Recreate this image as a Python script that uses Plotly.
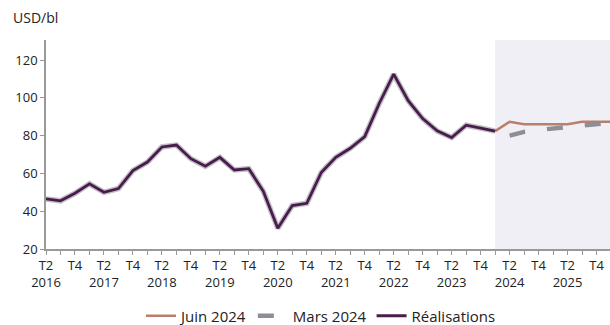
import plotly.graph_objects as go

# Quarter categories (T2 2016 .. T1 2026)
quarters = []
q, y = 2, 2016
for _ in range(40):
    quarters.append(f"T{q} {y}")
    q += 1
    if q > 4:
        q, y = 1, y + 1

realisations = [46.5, 45.5, 49.5, 54.5, 50.0, 52.0, 61.5, 66.0, 74.0, 75.0,
                67.8, 63.8, 68.5, 61.8, 62.5, 50.5, 31.0, 43.0, 44.2, 60.5,
                68.5, 73.3, 79.5, 97.0, 112.5, 98.5, 89.0, 82.5, 79.0, 85.5,
                84.0, 82.4]
real_x = quarters[:32]

juin_x = quarters[31:]
juin_2024 = [82.4, 87.3, 86.0, 86.0, 86.0, 86.0, 87.3, 87.3, 87.3]

mars_x = quarters[32:]
mars_2024 = [80.0, 82.0, 83.0, 83.8, 84.6, 85.4, 86.2, 86.8]

tick_labels = []
for c in quarters:
    t, yr = c.split()
    if t == "T2":
        tick_labels.append(f"T2<br>{yr}")
    elif t == "T4":
        tick_labels.append("T4")
    else:
        tick_labels.append("")

FONT = "Open Sans"
C_JUIN = "#b97f6c"
C_MARS = "#8e8e96"
C_REAL = "#4a1c4e"

W, H = 610, 325
L, T, B = 46, 40, 76
PW = W - L
PH = H - T - B

fig = go.Figure()

fig.add_vrect(x0=quarters[31], x1=quarters[39], fillcolor="#f0eff5", line_width=0, layer="below")

fig.add_trace(go.Scatter(x=juin_x, y=juin_2024, mode="lines", name="Juin 2024",
                         line=dict(color=C_JUIN, width=2.5)))
fig.add_trace(go.Scatter(x=mars_x, y=mars_2024, mode="lines", name="Mars 2024",
                         line=dict(color=C_MARS, width=4.5, dash="16px,22px")))
fig.add_trace(go.Scatter(x=real_x, y=realisations, mode="lines", showlegend=False,
                         hoverinfo="skip",
                         line=dict(color="rgba(140,140,150,0.55)", width=5.5)))
fig.add_trace(go.Scatter(x=real_x, y=realisations, mode="lines", name="Réalisations",
                         line=dict(color=C_REAL, width=2.8)))

fig.update_layout(
    width=W, height=H,
    margin=dict(l=L, r=0, t=T, b=B, autoexpand=False),
    plot_bgcolor="white", paper_bgcolor="white",
    font=dict(family=FONT, size=13, color="#222222"),
    showlegend=True,
    legend=dict(orientation="h", x=(321 - L) / PW, xanchor="center",
                yref="container", y=(H - 316) / H, yanchor="middle",
                font=dict(size=15, color="#222222"), itemwidth=30,
                tracegroupgap=0, bgcolor="rgba(0,0,0,0)"),
    xaxis=dict(type="category", categoryorder="array", categoryarray=quarters,
               range=[0, 38.93], tickmode="array", tickvals=quarters, ticktext=tick_labels,
               ticks="outside", ticklen=4, tickcolor="#999999", tickwidth=1,
               showline=True, linecolor="#999999", linewidth=1.5,
               showgrid=False, zeroline=False, tickangle=0, automargin=False,
               tickfont=dict(size=13, color="#222222")),
    yaxis=dict(range=[20, 130.6], tickvals=[20, 40, 60, 80, 100, 120],
               ticks="outside", ticklen=4, tickcolor="#999999",
               showline=True, linecolor="#999999", linewidth=1.5,
               showgrid=False, zeroline=False, automargin=False,
               tickfont=dict(size=13, color="#222222")),
    annotations=[dict(text="USD/bl", xref="paper", yref="paper",
                      x=(11 - L) / PW, y=(PH + T - 18) / PH, xanchor="left", yanchor="middle",
                      showarrow=False, font=dict(size=14, color="#222222"))],
)

fig.write_html("out.html",
               config={"displayModeBar": False},
               post_script="document.body.style.margin='0';document.documentElement.style.overflow='hidden';")
